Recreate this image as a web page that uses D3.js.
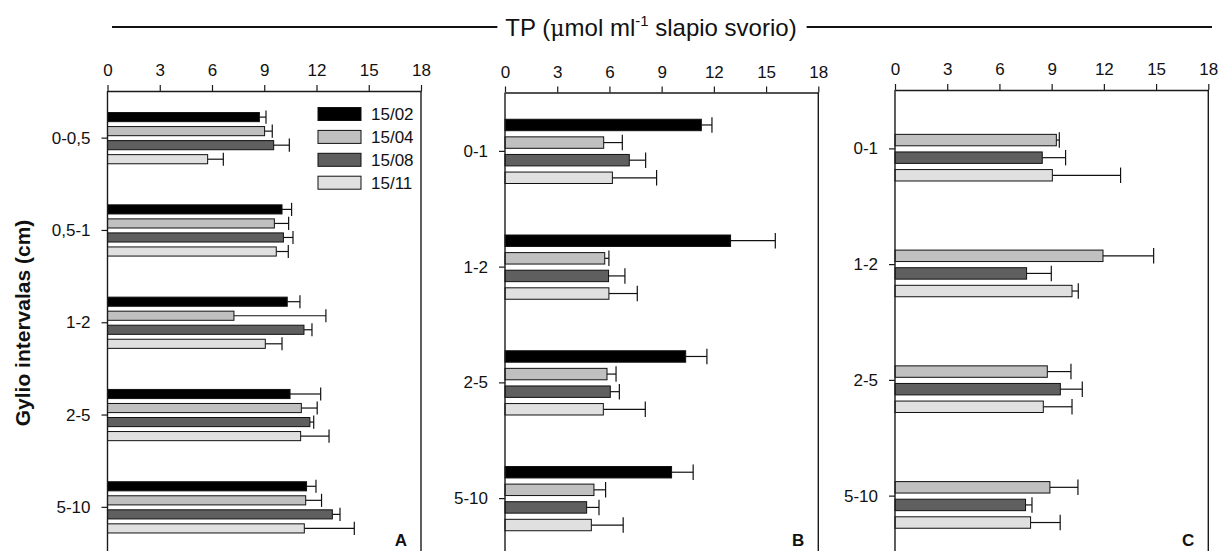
<!DOCTYPE html>
<html>
<head>
<meta charset="utf-8">
<script src="https://cdn.jsdelivr.net/npm/d3@7"></script>
<style>
  html, body { margin: 0; padding: 0; background: #fff; }
  svg text { font-family: "Liberation Sans", Arial, sans-serif; fill: #111; }
</style>
</head>
<body>
<svg id="chart" width="1221" height="551"></svg>
<script>
// Sampling dates (series) and their fills
const seriesNames = ["15/02", "15/04", "15/08", "15/11"];
const seriesFill = ["#000000", "#c0c0c0", "#5f5f5f", "#e0e0e0"];

// Depth intervals
const depthsA = ["0-0,5", "0,5-1", "1-2", "2-5", "5-10"];
const depthsBC = ["0-1", "1-2", "2-5", "5-10"];

// X axis ticks
const xTicks = [0, 3, 6, 9, 12, 15, 18];

// Panel A: means and standard errors per date
const meanA_1502 = [8.72, 10.02, 10.32, 10.48, 11.43];
const errA_1502  = [0.38, 0.55, 0.73, 1.76, 0.54];
const meanA_1504 = [9.02, 9.58, 7.26, 11.13, 11.38];
const errA_1504  = [0.44, 0.82, 5.28, 0.91, 0.91];
const meanA_1508 = [9.54, 10.10, 11.28, 11.62, 12.91];
const errA_1508  = [0.90, 0.55, 0.46, 0.22, 0.44];
const meanA_1511 = [5.75, 9.69, 9.06, 11.09, 11.30];
const errA_1511  = [0.90, 0.69, 0.96, 1.63, 2.87];

// Panel B
const meanB_1502 = [11.28, 12.96, 10.38, 9.57];
const errB_1502  = [0.61, 2.57, 1.22, 1.24];
const meanB_1504 = [5.67, 5.73, 5.86, 5.11];
const errB_1504  = [1.07, 0.24, 0.52, 0.67];
const meanB_1508 = [7.14, 5.95, 6.05, 4.69];
const errB_1508  = [0.94, 0.94, 0.52, 0.71];
const meanB_1511 = [6.17, 5.97, 5.65, 4.96];
const errB_1511  = [2.54, 1.63, 2.41, 1.83];

// Panel C (no 15/02 sampling)
const meanC_1502 = [null, null, null, null];
const errC_1502  = [null, null, null, null];
const meanC_1504 = [9.27, 11.95, 8.75, 8.90];
const errC_1504  = [0.17, 2.91, 1.36, 1.61];
const meanC_1508 = [8.46, 7.56, 9.50, 7.50];
const errC_1508  = [1.34, 1.42, 1.26, 0.37];
const meanC_1511 = [9.04, 10.17, 8.52, 7.79];
const errC_1511  = [3.92, 0.36, 1.65, 1.70];

const panels = [
  { letter: "A", cats: depthsA, x0: 107.5, x1: 421, y0: 92, y1: 553.5,
    means: [meanA_1502, meanA_1504, meanA_1508, meanA_1511],
    errs:  [errA_1502, errA_1504, errA_1508, errA_1511], legend: true },
  { letter: "B", cats: depthsBC, x0: 505, x1: 818.3, y0: 93.5, y1: 556.5,
    means: [meanB_1502, meanB_1504, meanB_1508, meanB_1511],
    errs:  [errB_1502, errB_1504, errB_1508, errB_1511] },
  { letter: "C", cats: depthsBC, x0: 895, x1: 1208.3, y0: 91, y1: 554,
    means: [meanC_1502, meanC_1504, meanC_1508, meanC_1511],
    errs:  [errC_1502, errC_1504, errC_1508, errC_1511] }
];

const svg = d3.select("#chart");
const axisColor = "#1a1a1a";
const labelSize = "17px";

panels.forEach(p => {
  const g = svg.append("g");
  const x = d3.scaleLinear().domain([0, 18]).range([p.x0, p.x1]);
  const y = d3.scaleBand().domain(p.cats).range([p.y0, p.y1]);
  const groupH = y.bandwidth() * 0.555;
  const sub = d3.scaleBand().domain(seriesNames)
    .range([-groupH / 2, groupH / 2]).paddingInner(0.35);

  // bars with error whiskers
  p.cats.forEach((cat, ci) => {
    const cy = y(cat) + y.bandwidth() / 2;
    seriesNames.forEach((s, si) => {
      const v = p.means[si][ci];
      if (v == null) return;
      const e = p.errs[si][ci];
      const by = cy + sub(s);
      const bh = sub.bandwidth();
      const mid = by + bh / 2;
      g.append("line")
        .attr("x1", x(v)).attr("x2", x(v + e))
        .attr("y1", mid).attr("y2", mid)
        .attr("stroke", "#111").attr("stroke-width", 1.2);
      g.append("line")
        .attr("x1", x(v + e)).attr("x2", x(v + e))
        .attr("y1", mid - bh / 2 - 2).attr("y2", mid + bh / 2 + 2)
        .attr("stroke", "#111").attr("stroke-width", 1.2);
      g.append("rect")
        .attr("x", x(0)).attr("y", by)
        .attr("width", x(v) - x(0)).attr("height", bh)
        .attr("fill", seriesFill[si])
        .attr("stroke", "#111").attr("stroke-width", 1);
    });
  });

  // top axis
  const top = g.append("g")
    .attr("transform", `translate(0,${p.y0 - 1})`)
    .call(d3.axisTop(x).tickValues(xTicks).tickSize(6).tickSizeOuter(0).tickPadding(9));
  top.select(".domain").attr("stroke", axisColor).attr("stroke-width", 1.4);
  top.selectAll(".tick line").attr("stroke", axisColor).attr("stroke-width", 1.2);
  top.selectAll("text").style("font-size", labelSize).attr("fill", "#111");

  // left axis
  const left = g.append("g")
    .attr("transform", `translate(${p.x0},0)`)
    .call(d3.axisLeft(y).tickSize(6).tickSizeOuter(0).tickPadding(11));
  left.select(".domain").attr("d", `M0,${p.y0 - 1}V${p.y1 + 5}`)
    .attr("stroke", axisColor).attr("stroke-width", 1.4);
  left.selectAll(".tick line").attr("stroke", axisColor).attr("stroke-width", 1.2);
  left.selectAll("text").style("font-size", labelSize).attr("fill", "#111");

  // right frame line
  g.append("line")
    .attr("x1", p.x1).attr("x2", p.x1)
    .attr("y1", p.y0 - 1).attr("y2", p.y1 + 5)
    .attr("stroke", axisColor).attr("stroke-width", 1.4);

  // panel letter
  g.append("text")
    .attr("x", p.x1 - 14).attr("y", 546)
    .attr("text-anchor", "end")
    .style("font-size", "17px").style("font-weight", "bold")
    .text(p.letter);

  if (p.legend) {
    const lg = g.append("g");
    seriesNames.forEach((s, i) => {
      const ly = 114 + i * 22.9;
      lg.append("rect")
        .attr("x", 318).attr("y", ly - 6.5)
        .attr("width", 43).attr("height", 13)
        .attr("fill", seriesFill[i]).attr("stroke", "#111").attr("stroke-width", 1);
      lg.append("text")
        .attr("x", 371).attr("y", ly + 6)
        .style("font-size", labelSize)
        .text(s);
    });
  }
});

// shared x-axis title with rules on both sides
const title = svg.append("text")
  .attr("x", 651).attr("y", 36)
  .attr("text-anchor", "middle")
  .style("font-size", "24px");
title.append("tspan").text("TP (");
title.append("tspan").style("font-family", "'DejaVu Serif', serif").style("font-size", "22px").text("\u03bc");
title.append("tspan").text("mol ml");
title.append("tspan").attr("dy", -10).style("font-size", "15px").text("-1");
title.append("tspan").attr("dy", 10).text(" slapio svorio)");
const tb = title.node().getBBox();
svg.append("line").attr("x1", 112).attr("x2", tb.x - 8).attr("y1", 27).attr("y2", 27)
  .attr("stroke", "#111").attr("stroke-width", 1.8);
svg.append("line").attr("x1", tb.x + tb.width + 10).attr("x2", 1212).attr("y1", 27).attr("y2", 27)
  .attr("stroke", "#111").attr("stroke-width", 1.8);

// y-axis title
svg.append("text")
  .attr("transform", "translate(30,323) rotate(-90)")
  .attr("text-anchor", "middle")
  .style("font-size", "21px").style("font-weight", "bold")
  .text("Gylio intervalas (cm)");
</script>
</body>
</html>
